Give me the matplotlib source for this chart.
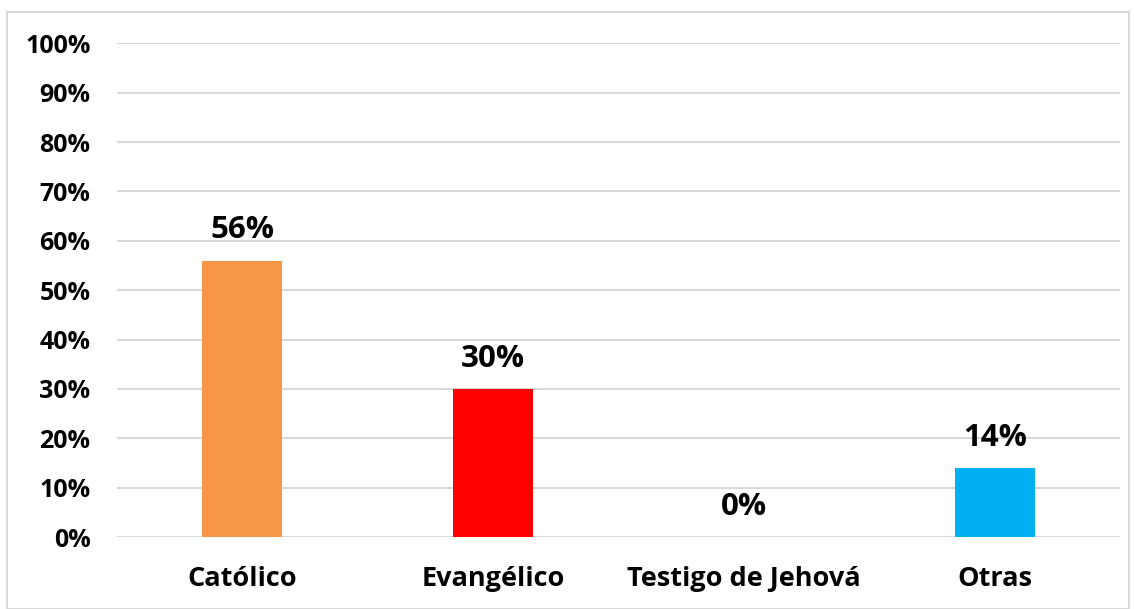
import matplotlib
matplotlib.use("Agg")
import matplotlib.pyplot as plt
from matplotlib.ticker import FuncFormatter, MultipleLocator
from matplotlib.patches import Rectangle

categories = ["Católico", "Evangélico", "Testigo de Jehová", "Otras"]
values = [56, 30, 0, 14]
colors = ["#F79646", "#FF0000", "#7F7F7F", "#00B0F0"]

plt.rcParams['font.family'] = ['Open Sans', 'DejaVu Sans']

fig = plt.figure(figsize=(11.34, 6.09), dpi=100)
ax = fig.add_axes([0.103, 0.118, 0.885, 0.811])

x = list(range(len(categories)))
bars = ax.bar(x, values, width=0.32, color=colors, zorder=3)

for xi, v in zip(x, values):
    ax.annotate(f"{v}%", (xi, v), xytext=(0, 11), textcoords="offset points",
                ha="center", va="bottom", fontsize=22.5, fontweight="bold", color="black")

ax.set_xlim(-0.5, len(categories) - 0.5)
ax.set_ylim(0, 100)
ax.yaxis.set_major_locator(MultipleLocator(10))
ax.yaxis.set_major_formatter(FuncFormatter(lambda v, p: f"{int(round(v))}%"))
ax.set_xticks(x)
ax.set_xticklabels(categories)
ax.grid(axis="y", color="#D9D9D9", linewidth=1.5, zorder=0)
for s in ax.spines.values():
    s.set_visible(False)
ax.tick_params(axis="both", length=0)
ax.tick_params(axis="y", pad=19, labelsize=18)
ax.tick_params(axis="x", pad=21, labelsize=19.5)
for lbl in ax.get_xticklabels() + ax.get_yticklabels():
    lbl.set_fontweight("bold")

fig.patches.append(Rectangle((0.006, 0.0), 0.99, 0.98, transform=fig.transFigure,
                             fill=False, edgecolor="#D9D9D9", linewidth=1.5))

fig.savefig("out.png", dpi=100)
